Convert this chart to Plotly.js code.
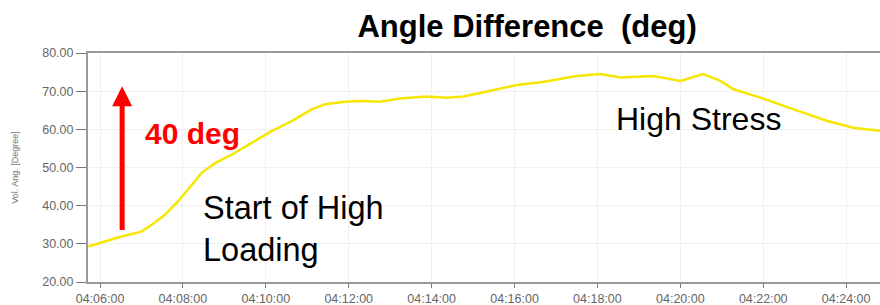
<!DOCTYPE html>
<html><head><meta charset="utf-8">
<script src="https://cdn.plot.ly/plotly-3.0.1.min.js"></script>
<style>html,body{margin:0;padding:0;background:#fff}#c{width:880px;height:305px}</style>
</head><body><div id="c"></div>
<script>
const DAY = "2020-01-01 ";
const times = ["04:05:43","04:06:07","04:06:31","04:07:00","04:07:15","04:07:34","04:07:53","04:08:13","04:08:27","04:08:47","04:09:11","04:09:40","04:10:09","04:10:38","04:11:07","04:11:26","04:11:55","04:12:19","04:12:45","04:13:14","04:13:53","04:14:22","04:14:46","04:15:15","04:16:03","04:16:41","04:17:30","04:18:04","04:18:33","04:19:21","04:20:00","04:20:33","04:20:58","04:21:17","04:21:56","04:22:43","04:23:33","04:24:10","04:24:49"];
const angleDiff = [29.3,30.6,31.9,33.2,35.0,37.6,41.1,45.5,48.6,51.2,53.4,56.5,59.6,62.2,65.3,66.6,67.2,67.4,67.2,68.1,68.6,68.3,68.6,69.7,71.6,72.4,74.0,74.5,73.6,74.0,72.7,74.5,72.7,70.5,68.3,65.3,62.2,60.4,59.6];
const yTicks = [20,30,40,50,60,70,80];
const xTicks = ["04:06:00","04:08:00","04:10:00","04:12:00","04:14:00","04:16:00","04:18:00","04:20:00","04:22:00","04:24:00"];
const arrowTime = "04:06:32", arrowFrom = 33.2, arrowTo = 71.3;

const trace = {
  x: times.map(t => DAY + t), y: angleDiff, type: "scatter", mode: "lines",
  line: {color: "#f7e600", width: 2.5}, hoverinfo: "skip"
};
const F = "Liberation Sans, Arial";
const pw = 880 - 88, ph = 305 - 53 - 23;
function px(xp){return (xp - 88) / pw;}
function py(yp){return (305 - 23 - yp) / ph;}
const layout = {
  width: 880, height: 305,
  margin: {l: 88, r: 0, t: 53, b: 23},
  paper_bgcolor: "#fff", plot_bgcolor: "#fff",
  showlegend: false,
  title: {text: "<b>Angle Difference\u00a0 (deg)</b>", x: 0.599, xanchor: "center", y: 0.915, yanchor: "middle",
          font: {family: F, size: 31, color: "#000"}},
  xaxis: {
    type: "date", range: [DAY + "04:05:42.6", DAY + "04:24:49"],
    tickvals: xTicks.map(t => DAY + t), ticktext: xTicks,
    showgrid: true, gridcolor: "#f0f0f0", gridwidth: 1,
    showline: true, linecolor: "#9a9a9a", linewidth: 2, mirror: true,
    ticks: "outside", ticklen: 4, tickcolor: "#777", tickwidth: 1,
    tickfont: {family: F, size: 12.5, color: "#666"},
    zeroline: false, fixedrange: true
  },
  yaxis: {
    range: [20, 80], tickvals: yTicks, ticktext: yTicks.map(v => v.toFixed(2)),
    showgrid: true, gridcolor: "#f0f0f0", gridwidth: 1,
    showline: true, linecolor: "#9a9a9a", linewidth: 2,
    ticks: "outside", ticklen: 10, tickcolor: "#777", tickwidth: 1,
    tickfont: {family: F, size: 12.5, color: "#666"},
    title: {text: "Vol. Ang. [Degree]", font: {family: F, size: 9, color: "#777"}, standoff: 22},
    zeroline: false, fixedrange: true
  },
  annotations: [
    {x: DAY + arrowTime, y: arrowTo, xref: "x", yref: "y", ax: DAY + arrowTime, ay: arrowFrom, axref: "x", ayref: "y",
     showarrow: true, arrowcolor: "#ff0000", arrowwidth: 5, arrowhead: 2, arrowsize: 0.8, text: "", standoff: 0},
    {xref: "paper", yref: "paper", x: px(143), y: py(133), xanchor: "left", yanchor: "middle",
     text: "<b>40 deg</b>", showarrow: false, font: {family: F, size: 30, color: "#ff0000"}},
    {xref: "paper", yref: "paper", x: px(201), y: py(229), xanchor: "left", yanchor: "middle", align: "left",
     text: "Start of High<br>Loading", showarrow: false, font: {family: F, size: 32.5, color: "#000"}},
    {xref: "paper", yref: "paper", x: px(614), y: py(119), xanchor: "left", yanchor: "middle",
     text: "High Stress", showarrow: false, font: {family: F, size: 32, color: "#000"}}
  ]
};
Plotly.newPlot("c", [trace], layout, {displayModeBar: false, staticPlot: true});
</script></body></html>
